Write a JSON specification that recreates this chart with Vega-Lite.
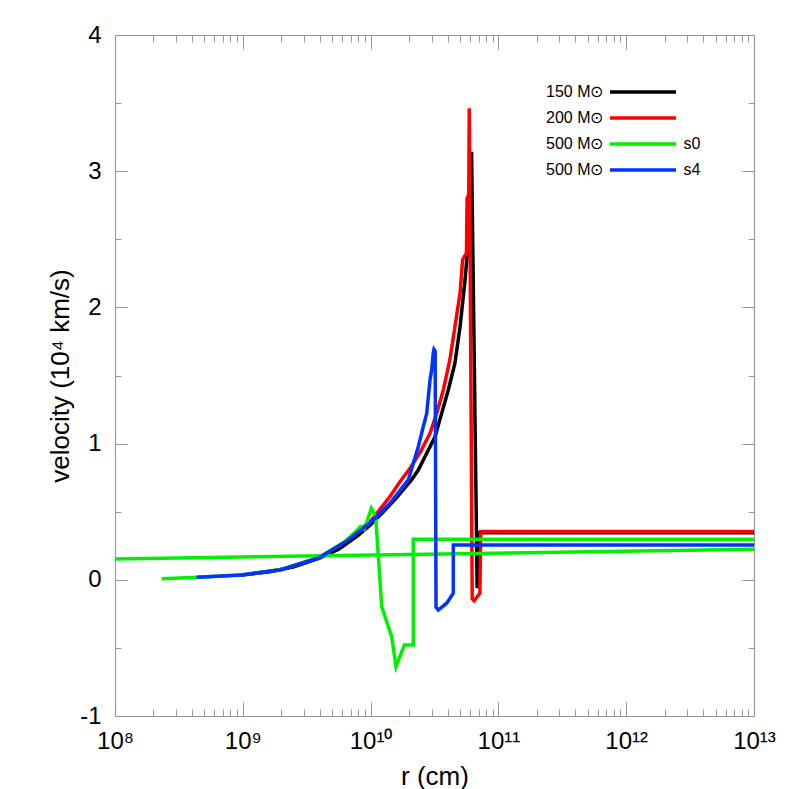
{
  "$schema": "https://vega.github.io/schema/vega-lite/v6.json",
  "width": 639,
  "height": 681,
  "autosize": {"type": "none"},
  "padding": {"left": 115, "top": 35, "right": 35, "bottom": 73},
  "background": "white",
  "config": {
    "view": {"stroke": null},
    "font": "Liberation Sans",
    "axis": {
      "grid": false,
      "domainColor": "#999999",
      "domainWidth": 1.2,
      "tickColor": "#999999",
      "tickWidth": 1,
      "labelFont": "Liberation Sans",
      "labelColor": "black",
      "labelFontSize": 24,
      "titleFont": "Liberation Sans",
      "titleFontSize": 26,
      "titleFontWeight": "normal",
      "titleColor": "black",
      "labelOverlap": false,
      "labelFlush": false
    },
    "legend": {
      "labelFont": "Liberation Sans",
      "labelFontSize": 16,
      "labelColor": "black"
    }
  },
  "datasets": {
    "lines": [
      {"m": "150", "r": 9.33e8, "v": 0.033},
      {"m": "150", "r": 1.585e9, "v": 0.058},
      {"m": "150", "r": 2.512e9, "v": 0.095},
      {"m": "150", "r": 3.981e9, "v": 0.16},
      {"m": "150", "r": 5.623e9, "v": 0.225},
      {"m": "150", "r": 7.943e9, "v": 0.325},
      {"m": "150", "r": 1e10, "v": 0.405},
      {"m": "150", "r": 1.259e10, "v": 0.5},
      {"m": "150", "r": 1.585e10, "v": 0.6},
      {"m": "150", "r": 2.089e10, "v": 0.733},
      {"m": "150", "r": 2.36e10, "v": 0.806},
      {"m": "150", "r": 2.748e10, "v": 0.929},
      {"m": "150", "r": 3.192e10, "v": 1.05},
      {"m": "150", "r": 3.597e10, "v": 1.222},
      {"m": "150", "r": 4.055e10, "v": 1.394},
      {"m": "150", "r": 4.571e10, "v": 1.59},
      {"m": "150", "r": 5.012e10, "v": 1.858},
      {"m": "150", "r": 5.483e10, "v": 2.201},
      {"m": "150", "r": 5.821e10, "v": 2.495},
      {"m": "150", "r": 6.124e10, "v": 2.75},
      {"m": "150", "r": 6.166e10, "v": 3.143},
      {"m": "150", "r": 6.823e10, "v": -0.062},
      {"m": "150", "r": 6.966e10, "v": 0.345},
      {"m": "150", "r": 1e13, "v": 0.345},

      {"m": "200", "r": 1.1e9, "v": 0.04},
      {"m": "200", "r": 1.995e9, "v": 0.075},
      {"m": "200", "r": 3.981e9, "v": 0.165},
      {"m": "200", "r": 6.31e9, "v": 0.28},
      {"m": "200", "r": 1e10, "v": 0.43},
      {"m": "200", "r": 1.413e10, "v": 0.61},
      {"m": "200", "r": 1.698e10, "v": 0.72},
      {"m": "200", "r": 2.042e10, "v": 0.82},
      {"m": "200", "r": 2.455e10, "v": 0.94},
      {"m": "200", "r": 2.917e10, "v": 1.076},
      {"m": "200", "r": 3.289e10, "v": 1.222},
      {"m": "200", "r": 3.707e10, "v": 1.394},
      {"m": "200", "r": 4.169e10, "v": 1.614},
      {"m": "200", "r": 4.571e10, "v": 1.858},
      {"m": "200", "r": 5.012e10, "v": 2.105},
      {"m": "200", "r": 5.248e10, "v": 2.35},
      {"m": "200", "r": 5.623e10, "v": 2.4},
      {"m": "200", "r": 5.689e10, "v": 2.8},
      {"m": "200", "r": 5.861e10, "v": 2.83},
      {"m": "200", "r": 5.916e10, "v": 3.462},
      {"m": "200", "r": 6.237e10, "v": -0.14},
      {"m": "200", "r": 6.457e10, "v": -0.155},
      {"m": "200", "r": 7.161e10, "v": -0.1},
      {"m": "200", "r": 7.278e10, "v": 0.355},
      {"m": "200", "r": 1e13, "v": 0.355},

      {"m": "500s0", "r": 2.32e8, "v": 0.008},
      {"m": "500s0", "r": 5.0e8, "v": 0.02},
      {"m": "500s0", "r": 1e9, "v": 0.037},
      {"m": "500s0", "r": 1.995e9, "v": 0.075},
      {"m": "500s0", "r": 3.981e9, "v": 0.165},
      {"m": "500s0", "r": 6.31e9, "v": 0.28},
      {"m": "500s0", "r": 7.586e9, "v": 0.35},
      {"m": "500s0", "r": 8.318e9, "v": 0.39},
      {"m": "500s0", "r": 8.913e9, "v": 0.37},
      {"m": "500s0", "r": 9.55e9, "v": 0.45},
      {"m": "500s0", "r": 1.014e10, "v": 0.525},
      {"m": "500s0", "r": 1.096e10, "v": 0.463},
      {"m": "500s0", "r": 1.222e10, "v": -0.197},
      {"m": "500s0", "r": 1.462e10, "v": -0.418},
      {"m": "500s0", "r": 1.581e10, "v": -0.638},
      {"m": "500s0", "r": 1.837e10, "v": -0.479},
      {"m": "500s0", "r": 2.158e10, "v": -0.479},
      {"m": "500s0", "r": 2.158e10, "v": 0.297},
      {"m": "500s0", "r": 1e13, "v": 0.297},
      {"m": "500s0", "part": "wind", "r": 1e8, "v": 0.153},
      {"m": "500s0", "part": "wind", "r": 1e13, "v": 0.224},

      {"m": "500s4", "r": 4.36e8, "v": 0.018},
      {"m": "500s4", "r": 1e9, "v": 0.036},
      {"m": "500s4", "r": 1.995e9, "v": 0.074},
      {"m": "500s4", "r": 3.981e9, "v": 0.163},
      {"m": "500s4", "r": 6.31e9, "v": 0.275},
      {"m": "500s4", "r": 1e10, "v": 0.42},
      {"m": "500s4", "r": 1.413e10, "v": 0.56},
      {"m": "500s4", "r": 1.778e10, "v": 0.68},
      {"m": "500s4", "r": 1.972e10, "v": 0.733},
      {"m": "500s4", "r": 2.36e10, "v": 0.977},
      {"m": "500s4", "r": 2.582e10, "v": 1.124},
      {"m": "500s4", "r": 2.748e10, "v": 1.222},
      {"m": "500s4", "r": 2.831e10, "v": 1.344},
      {"m": "500s4", "r": 2.917e10, "v": 1.467},
      {"m": "500s4", "r": 3.006e10, "v": 1.54},
      {"m": "500s4", "r": 3.09e10, "v": 1.665},
      {"m": "500s4", "r": 3.133e10, "v": 1.692},
      {"m": "500s4", "r": 3.2e10, "v": 1.68},
      {"m": "500s4", "r": 3.25e10, "v": -0.2},
      {"m": "500s4", "r": 3.388e10, "v": -0.222},
      {"m": "500s4", "r": 3.936e10, "v": -0.172},
      {"m": "500s4", "r": 4.436e10, "v": -0.099},
      {"m": "500s4", "r": 4.436e10, "v": 0.255},
      {"m": "500s4", "r": 1e13, "v": 0.255}
    ]
  },
  "layer": [
    {
      "data": {"name": "lines"},
      "mark": {"type": "line", "strokeWidth": 3.5, "clip": true},
      "encoding": {
        "x": {
          "field": "r",
          "type": "quantitative",
          "scale": {"type": "log", "domain": [1e8, 1e13], "nice": false},
          "axis": {
            "orient": "bottom",
            "title": "r (cm)",
            "titlePadding": 3,
            "values": [1e8, 2e8, 3e8, 4e8, 5e8, 6e8, 7e8, 8e8, 9e8, 1e9, 2e9, 3e9, 4e9, 5e9, 6e9, 7e9, 8e9, 9e9, 1e10, 2e10, 3e10, 4e10, 5e10, 6e10, 7e10, 8e10, 9e10, 1e11, 2e11, 3e11, 4e11, 5e11, 6e11, 7e11, 8e11, 9e11, 1e12, 2e12, 3e12, 4e12, 5e12, 6e12, 7e12, 8e12, 9e12, 1e13],
            "tickSize": {"condition": {"test": "abs(log(datum.value)/LN10 - round(log(datum.value)/LN10)) < 0.001", "value": -14}, "value": -7},
            "labelExpr": "abs(log(datum.value)/LN10 - round(log(datum.value)/LN10)) < 0.001 ? '10' + ['⁸','⁹','¹⁰','¹¹','¹²','¹³'][round(log(datum.value)/LN10) - 8] : ''",
            "labelPadding": 27
          }
        },
        "y": {
          "field": "v",
          "type": "quantitative",
          "scale": {"domain": [-1, 4], "nice": false, "zero": false},
          "axis": {
            "orient": "left",
            "title": "velocity (10⁴ km/s)",
            "titlePadding": 6,
            "values": [-1, -0.5, 0, 0.5, 1, 1.5, 2, 2.5, 3, 3.5, 4],
            "tickSize": {"condition": {"test": "datum.value % 1 == 0", "value": -12}, "value": -6},
            "labelExpr": "datum.value % 1 == 0 ? (datum.value < 0 ? '-' + format(-datum.value, 'd') : format(datum.value, 'd')) : ''",
            "labelPadding": 26
          }
        },
        "color": {
          "field": "m",
          "type": "nominal",
          "scale": {"domain": ["150", "200", "500s0", "500s4"], "range": ["#000000", "#ff0000", "#00f000", "#0033ff"]},
          "legend": {
            "orient": "none",
            "legendX": 520,
            "legendY": 49,
            "title": null,
            "symbolType": "M-5.5,0H5.5",
            "symbolSize": 144,
            "symbolStrokeWidth": 3.5,
            "labelAlign": "left",
            "labelOffset": -105,
            "rowPadding": 10,
            "labelExpr": "datum.value == '150' ? '150 M⊙' : datum.value == '200' ? '200 M⊙' : datum.value == '500s0' ? '500 M⊙\u2003\u2003\u2003\u2003\u2003s0' : '500 M⊙\u2003\u2003\u2003\u2003\u2003s4'"
          }
        },
        "detail": {"field": "part", "type": "nominal"},
        "order": {"value": null}
      }
    },
    {
      "data": {"name": "lines"},
      "mark": {"type": "line", "strokeOpacity": 0},
      "encoding": {
        "x": {
          "field": "r",
          "type": "quantitative",
          "scale": {"type": "log", "domain": [1e8, 1e13], "nice": false},
          "axis": {
            "orient": "top",
            "title": null,
            "labels": false,
            "values": [1e8, 2e8, 3e8, 4e8, 5e8, 6e8, 7e8, 8e8, 9e8, 1e9, 2e9, 3e9, 4e9, 5e9, 6e9, 7e9, 8e9, 9e9, 1e10, 2e10, 3e10, 4e10, 5e10, 6e10, 7e10, 8e10, 9e10, 1e11, 2e11, 3e11, 4e11, 5e11, 6e11, 7e11, 8e11, 9e11, 1e12, 2e12, 3e12, 4e12, 5e12, 6e12, 7e12, 8e12, 9e12, 1e13],
            "tickSize": {"condition": {"test": "abs(log(datum.value)/LN10 - round(log(datum.value)/LN10)) < 0.001", "value": -14}, "value": -7}
          }
        },
        "y": {
          "field": "v",
          "type": "quantitative",
          "scale": {"domain": [-1, 4], "nice": false, "zero": false},
          "axis": {
            "orient": "right",
            "title": null,
            "labels": false,
            "values": [-1, -0.5, 0, 0.5, 1, 1.5, 2, 2.5, 3, 3.5, 4],
            "tickSize": {"condition": {"test": "datum.value % 1 == 0", "value": -12}, "value": -6}
          }
        },
        "detail": {"field": "m", "type": "nominal"}
      }
    }
  ],
  "resolve": {
    "scale": {"x": "independent", "y": "independent", "color": "independent"},
    "axis": {"x": "independent", "y": "independent"}
  }
}
